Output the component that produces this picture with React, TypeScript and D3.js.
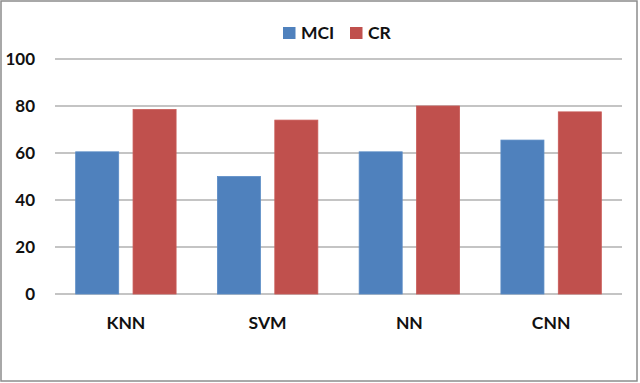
import React from "react";
import * as d3 from "d3";

const categories = ["KNN", "SVM", "NN", "CNN"];
const seriesNames = ["MCI", "CR"];
const mciValues = [60.5, 50, 60.5, 65.5];
const crValues = [78.5, 74, 80, 77.5];
const yTicks = [0, 20, 40, 60, 80, 100];
const colors = ["#4F81BD", "#C0504D"];

const W = 640;
const H = 383;
const left = 55;
const right = 622;
const top = 59;
const bottom = 294;
const font = "Lato, 'Open Sans', sans-serif";

export default function App() {
  const x = d3.scaleBand<string>().domain(categories).range([left, right]).paddingInner(0).paddingOuter(0);
  const inner = d3.scaleBand<string>().domain(seriesNames).range([0, x.bandwidth()]).paddingInner(0.25).paddingOuter(0.36);
  const y = d3.scaleLinear().domain([0, 100]).range([bottom, top]);
  const series = [mciValues, crValues];
  const legendX = [283, 350];

  return (
    <svg width={W} height={H} style={{ position: "absolute", left: 0, top: 0, background: "#fff" }}>
      <rect x={1} y={1} width={636} height={380} fill="#fff" stroke="#8c8c8c" strokeWidth={1.5} />
      {yTicks.map((t) => (
        <g key={t}>
          <line x1={left} x2={right} y1={y(t)} y2={y(t)} stroke="#8a8a8a" strokeWidth={1.2} />
          <text x={35} y={y(t)} dy="0.36em" textAnchor="end" fontFamily={font} fontWeight="bold" fontSize={17} fill="#111">
            {t}
          </text>
        </g>
      ))}
      {categories.map((c, i) => (
        <g key={c}>
          {series.map((vals, s) => (
            <rect
              key={s}
              x={(x(c) as number) + (inner(seriesNames[s]) as number)}
              y={y(vals[i])}
              width={inner.bandwidth()}
              height={y(0) - y(vals[i])}
              fill={colors[s]}
              stroke={s === 0 ? "#5b8cc6" : "#c95a57"}
              strokeWidth={0.8}
            />
          ))}
          <text x={(x(c) as number) + x.bandwidth() / 2} y={328.5} textAnchor="middle" fontFamily={font} fontWeight="bold" fontSize={17.5} fill="#111">
            {c}
          </text>
        </g>
      ))}
      {seriesNames.map((n, s) => {
        const lx = legendX[s];
        return (
          <g key={n}>
            <rect x={lx} y={27} width={12.5} height={12} fill={colors[s]} />
            <text x={lx + 18} y={38.5} fontFamily={font} fontWeight="bold" fontSize={17.5} fill="#111">
              {n}
            </text>
          </g>
        );
      })}
    </svg>
  );
}
